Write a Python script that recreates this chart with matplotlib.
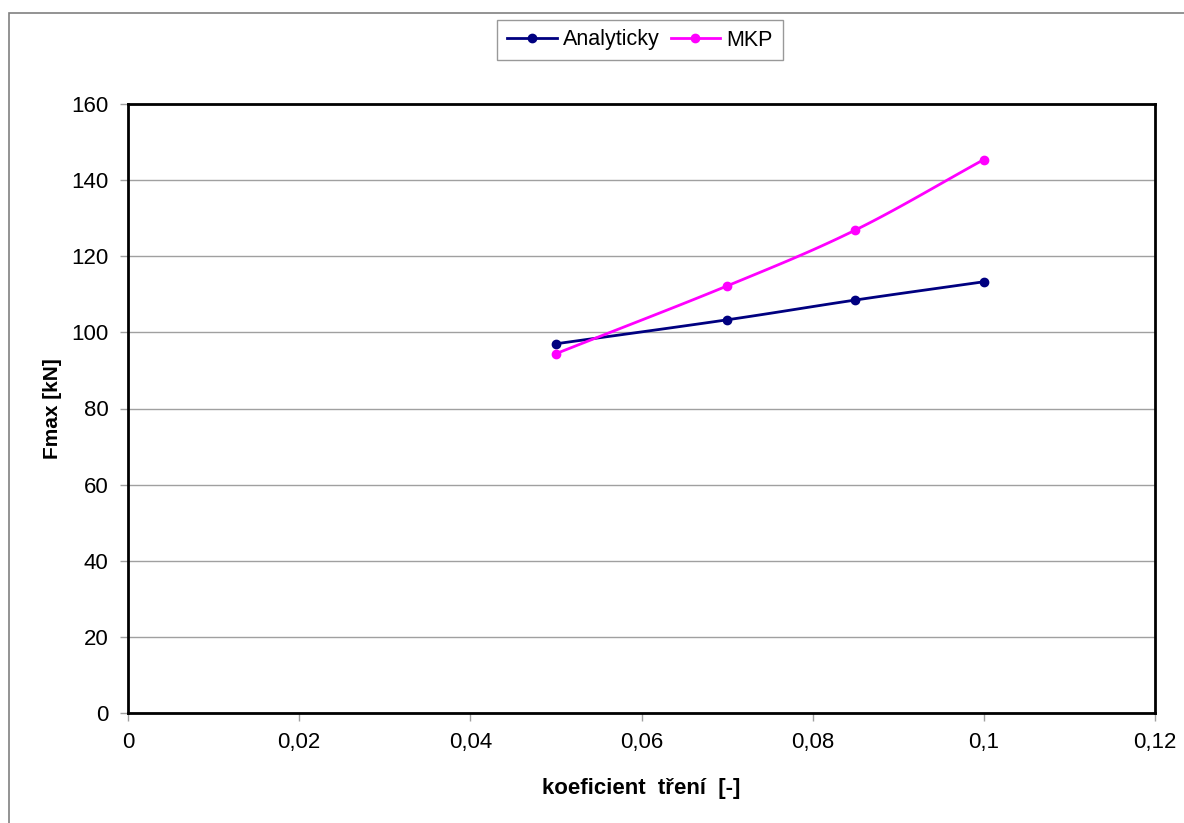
import numpy as np
import matplotlib.pyplot as plt
from matplotlib.ticker import FuncFormatter
from matplotlib.patches import Rectangle

plt.rcParams['font.family'] = ['Liberation Sans', 'DejaVu Sans']

# data
koef = [0.05, 0.07, 0.085, 0.1]
f_analyticky = [97.0, 103.3, 108.5, 113.3]
f_mkp = [94.4, 112.2, 126.9, 145.4]


def smooth(x, y, n=30):
    # Catmull-Rom, like Excel's smoothed line
    x = np.asarray(x, float)
    y = np.asarray(y, float)
    px = np.concatenate([[2 * x[0] - x[1]], x, [2 * x[-1] - x[-2]]])
    py = np.concatenate([[2 * y[0] - y[1]], y, [2 * y[-1] - y[-2]]])
    xs, ys = [], []
    t = np.linspace(0, 1, n)
    for i in range(1, len(px) - 2):
        for p, out in ((px, xs), (py, ys)):
            p0, p1, p2, p3 = p[i - 1], p[i], p[i + 1], p[i + 2]
            out.extend(0.5 * (2 * p1 + (-p0 + p2) * t
                              + (2 * p0 - 5 * p1 + 4 * p2 - p3) * t**2
                              + (-p0 + 3 * p1 - 3 * p2 + p3) * t**3))
    return xs, ys


fig = plt.figure(figsize=(11.84, 8.23), dpi=100)
ax = fig.add_axes([128 / 1184, 1 - 713 / 823, 1027 / 1184, 609 / 823])

# outer chart border
fig.patches.append(Rectangle((9 / 1184, -0.1), 1.2, 1 - 13 / 823 + 0.1,
                             transform=fig.transFigure, fill=False,
                             edgecolor='#808080', lw=1.2))

series = [('Analyticky', f_analyticky, '#000080'), ('MKP', f_mkp, '#ff00ff')]
for name, vals, col in series:
    sx, sy = smooth(koef, vals)
    ax.plot(sx, sy, color=col, lw=2, zorder=3)
    ax.plot(koef, vals, 'o', color=col, ms=6, zorder=4)
    ax.plot([], [], '-o', color=col, lw=2, ms=6, label=name)

ax.set_xlim(0, 0.12)
ax.set_ylim(0, 160)
ax.set_xticks(np.arange(0, 0.1201, 0.02))
ax.set_yticks(np.arange(0, 161, 20))
ax.xaxis.set_major_formatter(FuncFormatter(lambda v, p: '0' if v == 0 else f'{v:.2f}'.rstrip('0').replace('.', ',')))
ax.yaxis.grid(True, color='#a0a0a0', lw=1)
ax.set_axisbelow(True)
for s in ax.spines.values():
    s.set_linewidth(2)
ax.tick_params(direction='out', length=6, width=1, color='#a0a0a0', labelsize=16, pad=8)

ax.set_xlabel('koeficient  tření  [-]', fontsize=16, fontweight='bold', labelpad=18)
ax.set_ylabel('Fmax [kN]', fontsize=15, fontweight='bold')
ax.yaxis.set_label_coords(-0.064, 0.5)

leg = fig.legend(loc='center', bbox_to_anchor=(640 / 1184, 1 - 40 / 823), ncol=2,
                 fontsize=15.5, frameon=True, fancybox=False, edgecolor='#808080',
                 handlelength=2.3, columnspacing=0.5, handletextpad=0.3,
                 borderpad=0.45)
leg.get_frame().set_linewidth(1)

fig.savefig('out.png', dpi=100)
